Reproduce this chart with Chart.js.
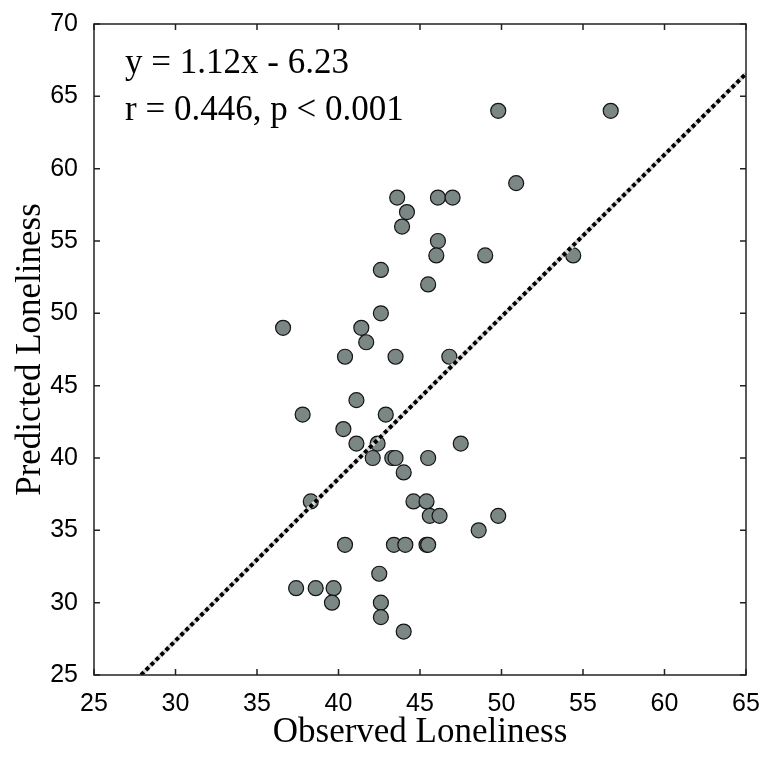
<!DOCTYPE html>
<html>
<head>
<meta charset="utf-8">
<script src="https://cdn.jsdelivr.net/npm/chart.js@4.4.1/dist/chart.umd.min.js"></script>
<style>
  html, body { margin: 0; padding: 0; background: #fff; }
  #wrap { width: 776px; height: 757px; position: relative; }
</style>
</head>
<body>
<div id="wrap"><canvas id="scatterChart"></canvas></div>
<script>
// Observed vs predicted loneliness
const observed = [
    49.8, 56.7, 50.9, 43.6, 46.1, 47.0, 44.2, 43.9, 46.1, 46.0,
    49.0, 54.4, 42.6, 45.5, 42.6, 36.6, 41.4, 41.7, 40.4, 43.5,
    46.8, 41.1, 37.8, 42.9, 40.3, 41.1, 42.4, 47.5, 42.1, 43.3,
    43.5, 45.5, 44.0, 38.3, 44.6, 45.4, 45.6, 46.2, 49.8, 48.6,
    40.4, 43.4, 44.1, 45.4, 45.5, 42.5, 37.4, 38.6, 39.7, 39.6,
    42.6, 42.6, 44.0
];
const predicted = [
    64, 64, 59, 58, 58, 58, 57, 56, 55, 54,
    54, 54, 53, 52, 50, 49, 49, 48, 47, 47,
    47, 44, 43, 43, 42, 41, 41, 41, 40, 40,
    40, 40, 39, 37, 37, 37, 36, 36, 36, 35,
    34, 34, 34, 34, 34, 32, 31, 31, 31, 30,
    30, 29, 28
];

// regression fit shown in the figure
const slope = 1.12;
const intercept = -6.23;
const rValue = '0.446';
const pText = 'p < 0.001';

const xTicks = [25, 30, 35, 40, 45, 50, 55, 60, 65];
const yTicks = [25, 30, 35, 40, 45, 50, 55, 60, 65, 70];

const xMin = 25, xMax = 65, yMin = 25, yMax = 70;
const fitStartX = (yMin - intercept) / slope;
const fitLine = [
    { x: fitStartX, y: slope * fitStartX + intercept },
    { x: xMax, y: slope * xMax + intercept }
];

const points = observed.map((o, i) => ({ x: o, y: predicted[i] }));

const serif = '"Liberation Serif", "Times New Roman", serif';
const sans = '"Liberation Sans", Arial, sans-serif';

// box frame, inward ticks and the equation text
const frameAndNotes = {
    id: 'frameAndNotes',
    afterDatasetsDraw(chart) {
        const { ctx, chartArea: a, scales } = chart;
        const tick = 6;
        ctx.save();
        ctx.strokeStyle = '#222';
        ctx.lineWidth = 1.5;
        ctx.strokeRect(a.left, a.top, a.right - a.left, a.bottom - a.top);
        ctx.beginPath();
        xTicks.forEach(v => {
            const px = scales.x.getPixelForValue(v);
            ctx.moveTo(px, a.bottom); ctx.lineTo(px, a.bottom - tick);
            ctx.moveTo(px, a.top); ctx.lineTo(px, a.top + tick);
        });
        yTicks.forEach(v => {
            const py = scales.y.getPixelForValue(v);
            ctx.moveTo(a.left, py); ctx.lineTo(a.left + tick, py);
            ctx.moveTo(a.right, py); ctx.lineTo(a.right - tick, py);
        });
        ctx.stroke();

        ctx.fillStyle = '#000';
        ctx.font = '35px ' + serif;
        ctx.textBaseline = 'middle';
        ctx.textAlign = 'left';
        const sign = intercept < 0 ? ' - ' : ' + ';
        ctx.fillText('y = ' + slope.toFixed(2) + 'x' + sign + Math.abs(intercept).toFixed(2), a.left + 31, a.top + 40);
        ctx.fillText('r = ' + rValue + ', ' + pText, a.left + 31, a.top + 87);
        ctx.restore();
    }
};

const ctx = document.getElementById('scatterChart');
new Chart(ctx, {
    type: 'scatter',
    data: {
        datasets: [
            {
                label: 'fit',
                type: 'line',
                data: fitLine,
                borderColor: 'rgb(0, 0, 0)',
                borderWidth: 4,
                borderDash: [4, 3],
                pointRadius: 0,
                fill: false,
                order: 1
            },
            {
                label: 'fit base',
                type: 'line',
                data: fitLine,
                borderColor: 'rgb(215, 215, 215)',
                borderWidth: 4,
                pointRadius: 0,
                fill: false,
                order: 2
            },
            {
                label: 'participants',
                data: points,
                pointRadius: 7.5,
                pointBackgroundColor: 'rgb(123, 135, 132)',
                pointBorderColor: 'rgb(20, 20, 20)',
                pointBorderWidth: 1.2,
                order: 3
            }
        ]
    },
    options: {
        responsive: true,
        maintainAspectRatio: false,
        animation: false,
        layout: {
            padding: { top: 24, right: 30, left: 0, bottom: 0 }
        },
        plugins: {
            legend: { display: false },
            tooltip: { enabled: false }
        },
        scales: {
            x: {
                type: 'linear',
                min: xMin,
                max: xMax,
                afterBuildTicks: scale => { scale.ticks = xTicks.map(v => ({ value: v })); },
                afterFit: scale => { scale.height = 82; },
                grid: { display: false },
                border: { display: false },
                ticks: {
                    color: '#000',
                    padding: 6,
                    maxRotation: 0,
                    font: { family: sans, size: 25 }
                },
                title: {
                    display: true,
                    text: 'Observed Loneliness',
                    color: '#000',
                    padding: { top: 0, bottom: 3 },
                    font: { family: serif, size: 35 }
                }
            },
            y: {
                type: 'linear',
                min: yMin,
                max: yMax,
                afterBuildTicks: scale => { scale.ticks = yTicks.map(v => ({ value: v })); },
                afterFit: scale => { scale.width = 94; },
                grid: { display: false },
                border: { display: false },
                ticks: {
                    color: '#000',
                    padding: 8,
                    font: { family: sans, size: 25 }
                },
                title: {
                    display: true,
                    text: 'Predicted Loneliness',
                    color: '#000',
                    padding: { top: 10, bottom: 0 },
                    font: { family: serif, size: 35 }
                }
            }
        }
    },
    plugins: [frameAndNotes]
});
</script>
</body>
</html>
